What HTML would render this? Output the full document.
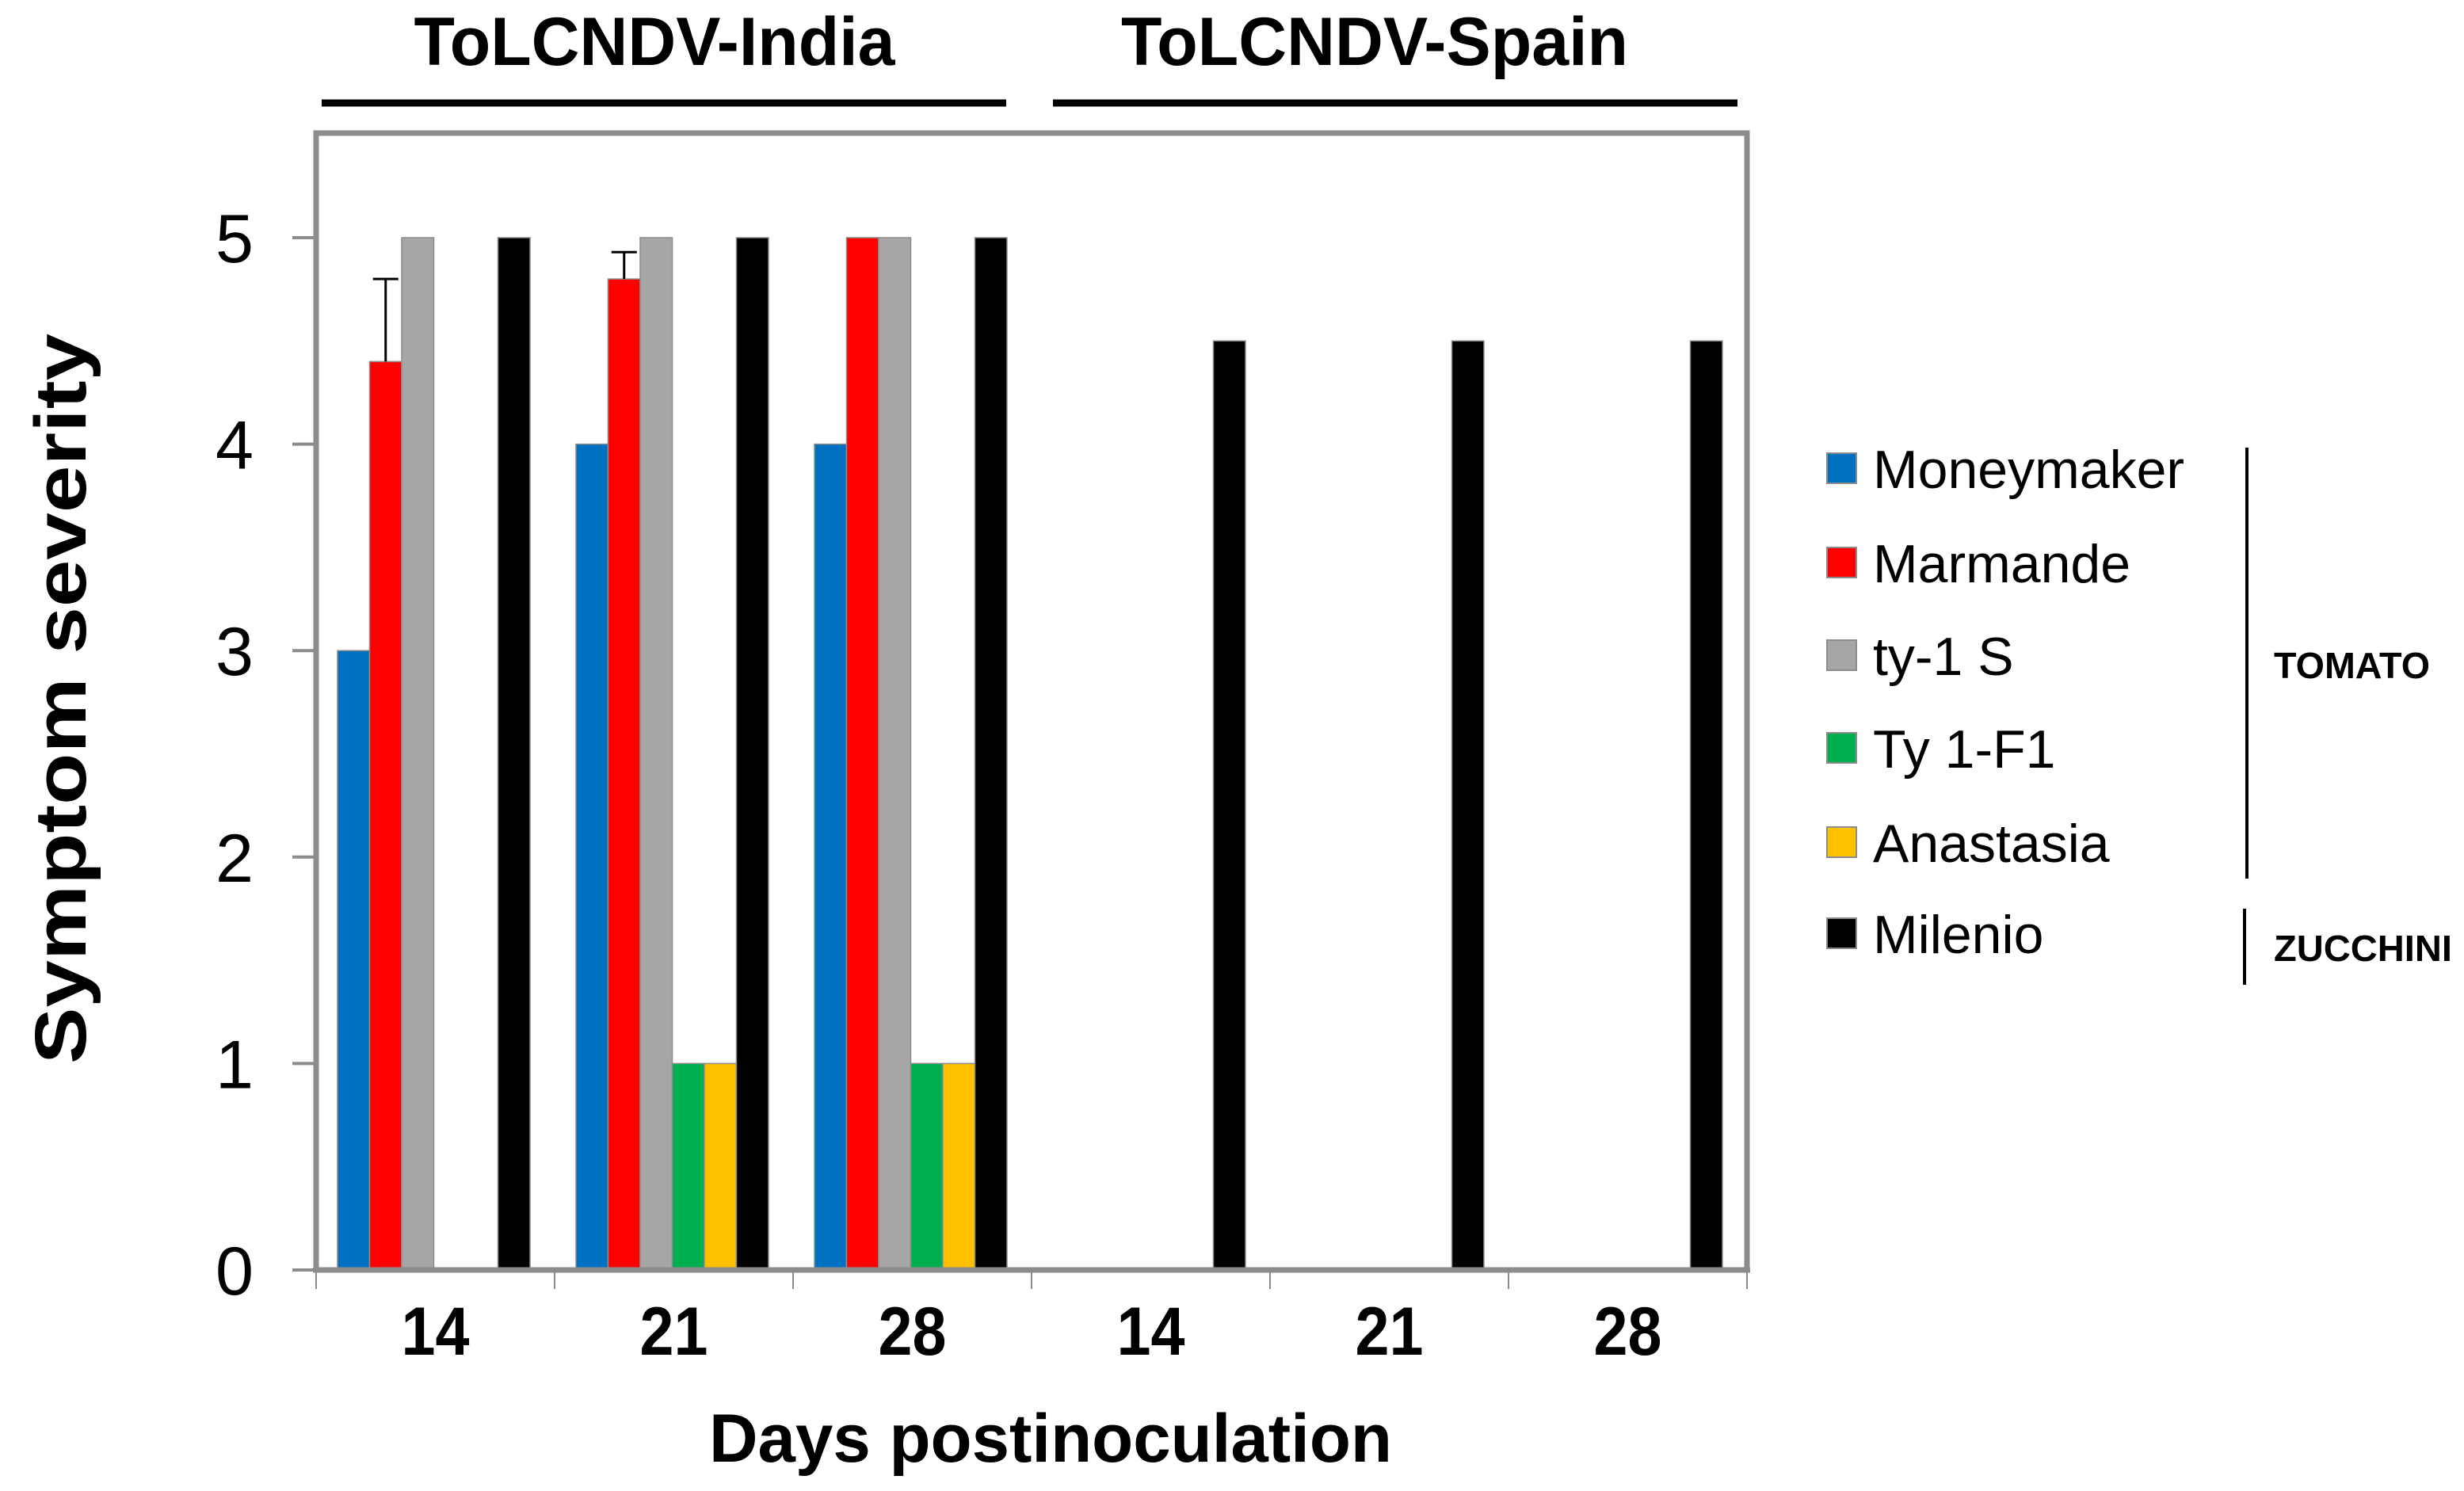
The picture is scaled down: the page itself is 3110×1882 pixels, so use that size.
<!DOCTYPE html>
<html><head><meta charset="utf-8"><style>
html,body{margin:0;padding:0;background:#fff;}
svg{display:block;}
text{font-family:"Liberation Sans",Arial,sans-serif;}
</style></head><body>
<svg id="chart" width="3110" height="1882" viewBox="0 0 3110 1882" xmlns="http://www.w3.org/2000/svg">
<g id="header">
<text x="826" y="82" font-size="86" font-weight="bold" text-anchor="middle" textLength="607" lengthAdjust="spacingAndGlyphs">ToLCNDV-India</text>
<line x1="406" y1="130" x2="1270" y2="130" stroke="#000" stroke-width="9"/>
<text x="1735" y="82" font-size="86" font-weight="bold" text-anchor="middle" textLength="640" lengthAdjust="spacingAndGlyphs">ToLCNDV-Spain</text>
<line x1="1329" y1="130" x2="2193" y2="130" stroke="#000" stroke-width="9"/>
</g>
<g id="plot"></g>
<g id="legend"></g>
<text transform="translate(108,882) rotate(-90)" font-size="92" font-weight="bold" text-anchor="middle" textLength="922" lengthAdjust="spacingAndGlyphs">Symptom severity</text>
<text x="1326" y="1845" font-size="86" font-weight="bold" text-anchor="middle" textLength="862" lengthAdjust="spacingAndGlyphs">Days postinoculation</text>
</svg>
<script>
const categories = ["14","21","28","14","21","28"];
const seriesNames = ["Moneymaker","Marmande","ty-1 S","Ty 1-F1","Anastasia","Milenio"];
const moneymaker = [3,4,4,0,0,0];
const marmande = [4.4,4.8,5,0,0,0];
const ty1S = [5,5,5,0,0,0];
const ty1F1 = [0,1,1,0,0,0];
const anastasia = [0,1,1,0,0,0];
const milenio = [5,5,5,4.5,4.5,4.5];
const marmandeErrTop = [4.8,4.93,5,0,0,0];
const yTicks = [0,1,2,3,4,5];

const colors = ["#0070C0","#FF0000","#A6A6A6","#00B050","#FFC000","#000000"];
const series = [moneymaker, marmande, ty1S, ty1F1, anastasia, milenio];
const NS = "http://www.w3.org/2000/svg";
const L = 399, R = 2205, Y0 = 1603, Y5 = 300, TOP = 168;
const groupW = (R - L) / categories.length;
const barW = 40.5, barOff = 27;
function yScale(v){ return Y0 - (Y0 - Y5) * v / 5; }
function xGroup(i){ return L + i * groupW; }
function mk(tag, attrs, parent){ const e = document.createElementNS(NS, tag); for (const k in attrs) e.setAttribute(k, attrs[k]); parent.appendChild(e); return e; }
const plot = document.getElementById('plot');

mk('rect', {x:L, y:TOP, width:R-L, height:Y0-TOP, fill:'#fff', stroke:'none'}, plot);

series.forEach((vals, s) => {
  vals.forEach((v, i) => {
    if (v <= 0) return;
    const r = mk('rect', {x: xGroup(i) + barOff + s*barW, y: yScale(v), width: barW, height: Y0 - yScale(v), fill: colors[s], stroke: '#8c8c8c', 'stroke-width': 1.5}, plot);
    
    
  });
});
marmandeErrTop.forEach((t, i) => {
  const v = marmande[i];
  if (!(t > v)) return;
  const cx = xGroup(i) + barOff + 1*barW + barW/2;
  const g = mk('g', {}, plot);
  
  
  mk('line', {x1:cx, y1:yScale(v), x2:cx, y2:yScale(t), stroke:'#000', 'stroke-width':3}, g);
  mk('line', {x1:cx-16, y1:yScale(t), x2:cx+16, y2:yScale(t), stroke:'#000', 'stroke-width':3}, g);
});
// frame
const frame = mk('path', {d:`M${L} ${Y0} L${L} ${TOP} L${R} ${TOP} L${R} ${Y0}`, fill:'none', stroke:'#8c8c8c', 'stroke-width':7}, plot);


const xa = mk('line', {x1:L-4, y1:Y0, x2:R+4, y2:Y0, stroke:'#8c8c8c', 'stroke-width':7}, plot);


yTicks.forEach(t => {
  const y = yScale(t);
  const tk = mk('line', {x1:369, y1:y, x2:L, y2:y, stroke:'#8c8c8c', 'stroke-width':4}, plot);
  
  
  const lb = mk('text', {x:320, y:y+31, 'font-size':86, 'text-anchor':'end', textLength:48, lengthAdjust:'spacingAndGlyphs'}, plot);
  lb.textContent = String(t);
  
  
});
for (let i = 0; i <= categories.length; i++) {
  const x = xGroup(i);
  const tk = mk('line', {x1:x, y1:Y0, x2:x, y2:1627, stroke:'#8c8c8c', 'stroke-width':2}, plot);
  
  
}
categories.forEach((c, i) => {
  const lb = mk('text', {x:xGroup(i)+groupW/2, y:1710, 'font-size':86, 'font-weight':'bold', 'text-anchor':'middle', textLength:86, lengthAdjust:'spacingAndGlyphs'}, plot);
  lb.textContent = c;
  
  
});
// legend
const legend = document.getElementById('legend');
const rowY = [591,710,827,944,1063,1178];
seriesNames.forEach((n, s) => {
  const g = mk('g', {}, legend);
  
  
  mk('rect', {x:2306, y:rowY[s]-19, width:37, height:38, fill:colors[s], stroke:'#8c8c8c', 'stroke-width':2}, g);
  const t = mk('text', {x:2364, y:rowY[s]+25, 'font-size':68}, g);
  t.textContent = n;
});
const lg = [
  ['line', {x1:2836, y1:565, x2:2836, y2:1109, stroke:'#000', 'stroke-width':4}, 'tomato-bracket'],
  ['line', {x1:2833, y1:1147, x2:2833, y2:1243, stroke:'#000', 'stroke-width':4}, 'zucchini-bracket']
];
lg.forEach(([tag, a, name]) => { const e = mk(tag, a, legend);   });
const tom = mk('text', {x:2870, y:856, 'font-size':46, 'font-weight':'bold', textLength:197, lengthAdjust:'spacingAndGlyphs'}, legend);
tom.textContent = 'TOMATO';


const zuc = mk('text', {x:2870, y:1213, 'font-size':46, 'font-weight':'bold', textLength:225, lengthAdjust:'spacingAndGlyphs'}, legend);
zuc.textContent = 'ZUCCHINI';


</script>
</body></html>
